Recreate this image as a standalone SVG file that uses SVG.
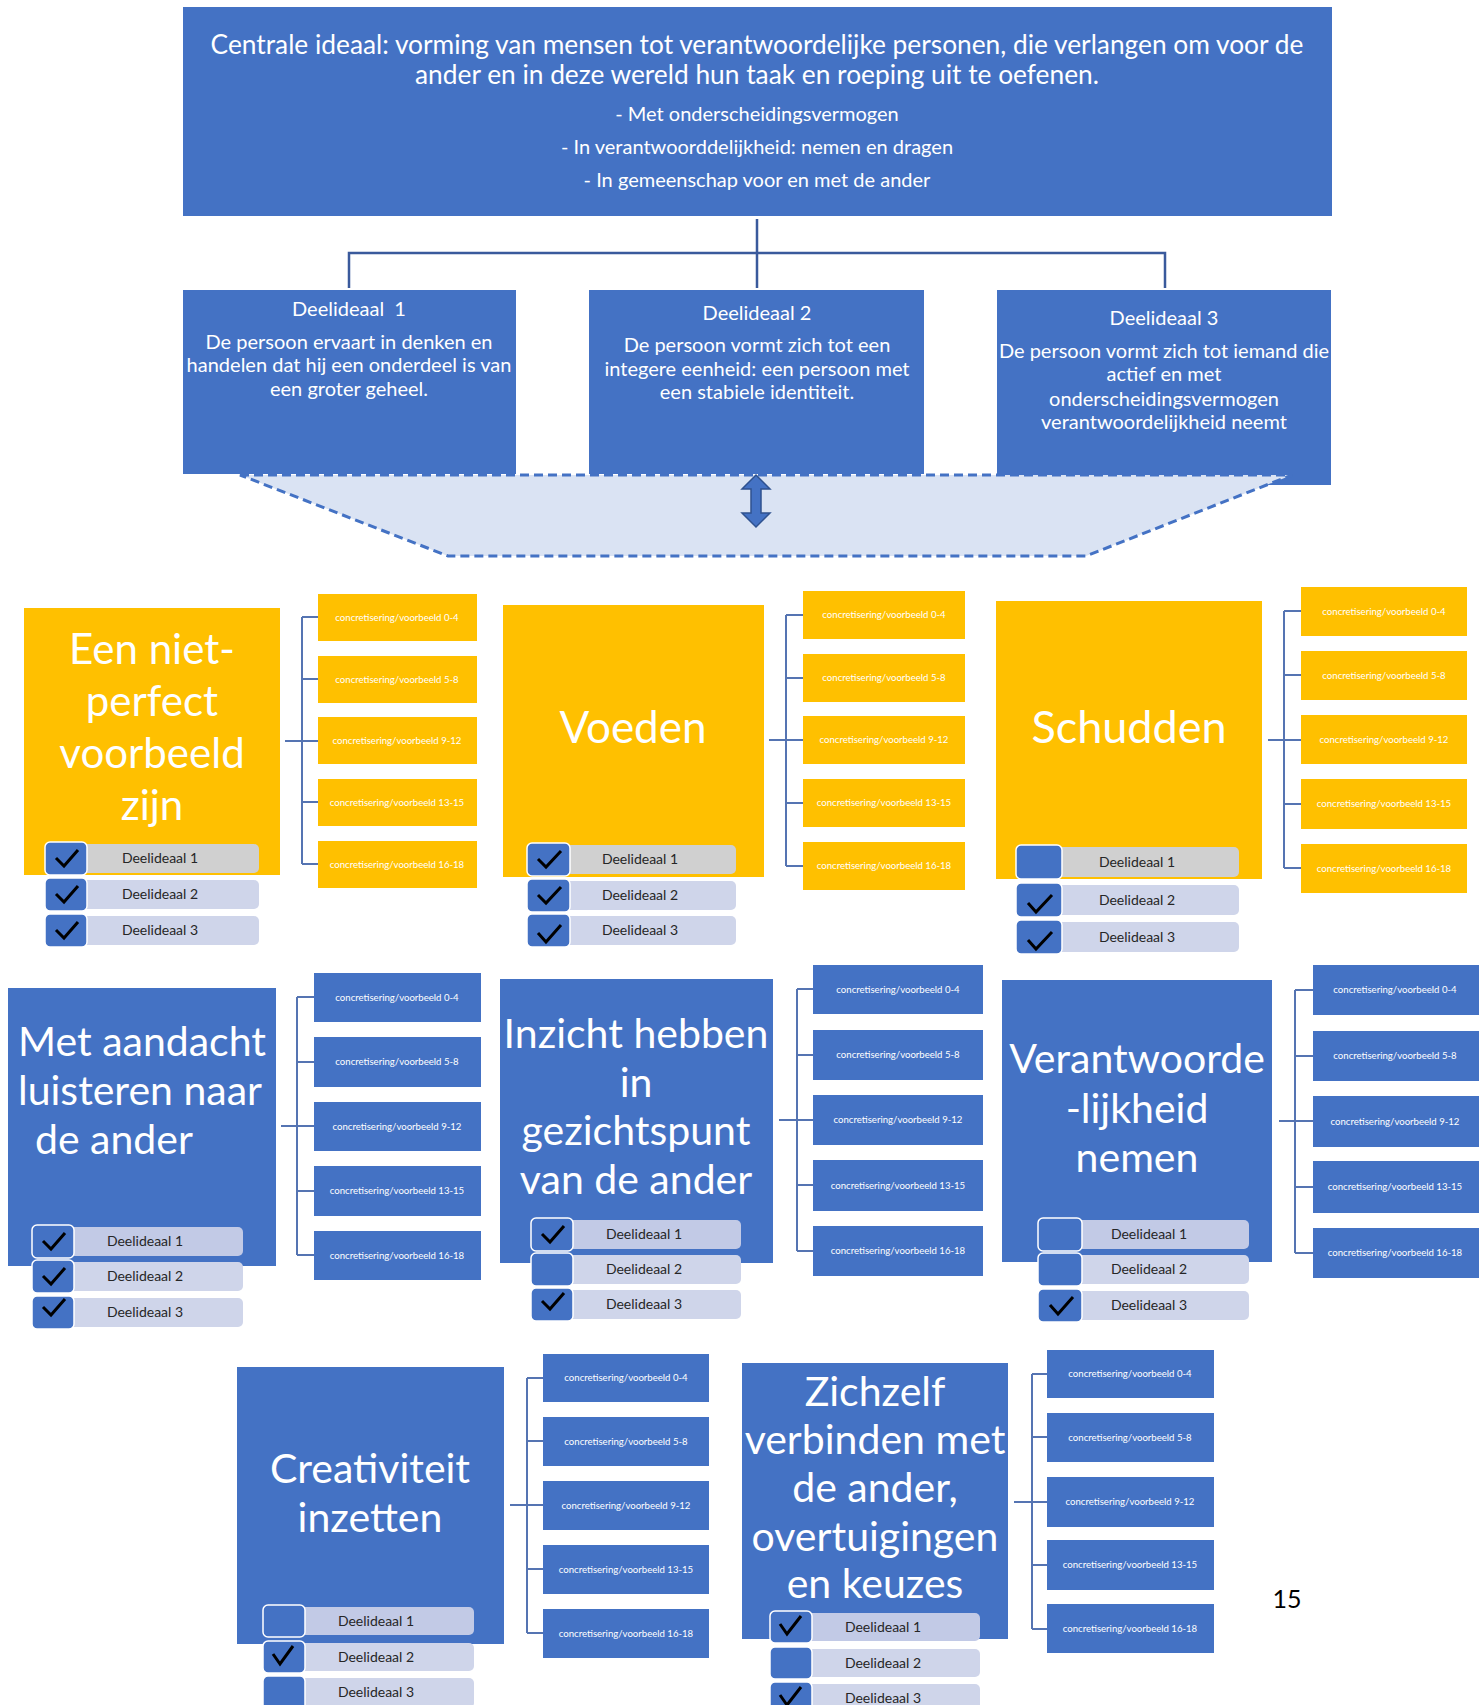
<svg xmlns="http://www.w3.org/2000/svg" width="1479" height="1705" viewBox="0 0 1479 1705">
<style>
text{font-family:Lato,'Liberation Sans',sans-serif}
.blue{fill:#4472C4}
.yel{fill:#FFC000}
.top1{font-size:26.3px;fill:#fff;text-anchor:middle}
.top2{font-size:20px;fill:#fff;text-anchor:middle}
.dl{font-size:20px;fill:#fff;text-anchor:middle}
.ttl{font-size:41px;fill:#fff;text-anchor:middle}
.ttly{font-size:42px;fill:#fff;text-anchor:middle}
.cc{font-size:9.6px;fill:#fff;text-anchor:middle}
.lab{font-size:14px;fill:#262626;text-anchor:middle}
.sq{fill:#4472C4;stroke:#fff;stroke-width:1.5}
.bar{fill:#CFD5EA}
.bar1y{fill:#D0D0D0}
.bar1b{fill:#C2CAE6}
.chk{fill:none;stroke:#000;stroke-width:3;stroke-linejoin:miter}
.tree{fill:none;stroke:#3A5A9C;stroke-width:2.5}
.br{fill:none;stroke:#5574B2;stroke-width:2}
</style>

<!-- connectors -->
<g id="connectors">
  <path class="tree" d="M757 219 V288 M349 288 V253 H1165 V288"/>
  <path class="br" d="M285 741 H302 M302 617 V864 M302 617 H318 M302 679 H318 M302 741 H318 M302 802 H318 M302 864 H318"/>
  <path class="br" d="M769 740 H786 M786 615 V866 M786 615 H803 M786 678 H803 M786 740 H803 M786 803 H803 M786 866 H803"/>
  <path class="br" d="M1268 740 H1284 M1284 611 V868 M1284 611 H1301 M1284 675 H1301 M1284 740 H1301 M1284 804 H1301 M1284 868 H1301"/>
  <path class="br" d="M281 1126 H297 M297 997 V1255 M297 997 H314 M297 1062 H314 M297 1126 H314 M297 1191 H314 M297 1255 H314"/>
  <path class="br" d="M779 1120 H797 M797 989 V1251 M797 989 H813 M797 1055 H813 M797 1120 H813 M797 1185 H813 M797 1251 H813"/>
  <path class="br" d="M1279 1121 H1295 M1295 990 V1253 M1295 990 H1313 M1295 1056 H1313 M1295 1121 H1313 M1295 1187 H1313 M1295 1253 H1313"/>
  <path class="br" d="M510 1505 H527 M527 1378 V1633 M527 1378 H543 M527 1441 H543 M527 1505 H543 M527 1569 H543 M527 1633 H543"/>
  <path class="br" d="M1014 1502 H1032 M1032 1374 V1629 M1032 1374 H1047 M1032 1437 H1047 M1032 1502 H1047 M1032 1565 H1047 M1032 1629 H1047"/>
</g>

<g id="centraal">
  <rect class="blue" x="183" y="7" width="1149" height="209"/>
  <text class="top1" x="757" y="54">Centrale ideaal: vorming van mensen tot verantwoordelijke personen, die verlangen om voor de</text>
  <text class="top1" x="757" y="84">ander en in deze wereld hun taak en roeping uit te oefenen.</text>
  <text class="top2" x="757" y="121">- Met onderscheidingsvermogen</text>
  <text class="top2" x="757" y="154">- In verantwoorddelijkheid: nemen en dragen</text>
  <text class="top2" x="757" y="187">- In gemeenschap voor en met de ander</text>
</g>

<g id="deelideaal1">
  <rect class="blue" x="183" y="290" width="333" height="184"/>
  <text class="dl" x="349" y="316" xml:space="preserve">Deelideaal  1</text>
  <text class="dl" x="349" y="349">De persoon ervaart in denken en</text>
  <text class="dl" x="349" y="372">handelen dat hij een onderdeel is van</text>
  <text class="dl" x="349" y="396">een groter geheel.</text>
</g>
<g id="deelideaal2">
  <rect class="blue" x="589" y="290" width="335" height="184"/>
  <text class="dl" x="757" y="320">Deelideaal 2</text>
  <text class="dl" x="757" y="352">De persoon vormt zich tot een</text>
  <text class="dl" x="757" y="376">integere eenheid: een persoon met</text>
  <text class="dl" x="757" y="399">een stabiele identiteit.</text>
</g>
<g id="deelideaal3">
  <rect class="blue" x="997" y="290" width="334" height="195"/>
  <text class="dl" x="1164" y="325">Deelideaal 3</text>
  <text class="dl" x="1164" y="358">De persoon vormt zich tot iemand die</text>
  <text class="dl" x="1164" y="381">actief en met</text>
  <text class="dl" x="1164" y="406">onderscheidingsvermogen</text>
  <text class="dl" x="1164" y="429">verantwoordelijkheid neemt</text>
</g>

<g id="trechter">
  <polygon points="240,475 1292,475 1086,556 448,556" fill="#DAE3F3" stroke="#4472C4" stroke-width="3" stroke-dasharray="9 5"/>
  <polygon points="756,475 770,489 761,489 761,513 770,513 756,527 742,513 751,513 751,489 742,489" fill="#4472C4" stroke="#2F528F" stroke-width="1.5"/>
</g>

<!-- Row 1 -->
<g id="node-voorbeeld">
  <rect class="yel" x="24" y="608" width="256" height="267"/>
  <text class="ttly" x="152" y="664">Een niet-</text>
  <text class="ttly" x="152" y="716">perfect</text>
  <text class="ttly" x="152" y="768">voorbeeld</text>
  <text class="ttly" x="152" y="820">zijn</text>
  <rect class="bar1y" x="80" y="844" width="179" height="29" rx="5"/>
  <rect class="sq" x="45" y="842" width="42" height="33" rx="5"/>
  <path class="chk" d="M56 858 L64 866 L78 850"/>
  <text class="lab" x="160" y="863">Deelideaal 1</text>
  <rect class="bar" x="80" y="880" width="179" height="29" rx="5"/>
  <rect class="sq" x="45" y="878" width="42" height="33" rx="5"/>
  <path class="chk" d="M56 894 L64 902 L78 886"/>
  <text class="lab" x="160" y="899">Deelideaal 2</text>
  <rect class="bar" x="80" y="916" width="179" height="29" rx="5"/>
  <rect class="sq" x="45" y="914" width="42" height="33" rx="5"/>
  <path class="chk" d="M56 930 L64 938 L78 922"/>
  <text class="lab" x="160" y="935">Deelideaal 3</text>
</g>
<g id="conc-voorbeeld">
  <rect class="yel" x="318" y="594" width="159" height="47"/>
  <text class="cc" x="397" y="621">concretisering/voorbeeld 0-4</text>
  <rect class="yel" x="318" y="656" width="159" height="47"/>
  <text class="cc" x="397" y="683">concretisering/voorbeeld 5-8</text>
  <rect class="yel" x="318" y="717" width="159" height="47"/>
  <text class="cc" x="397" y="744">concretisering/voorbeeld 9-12</text>
  <rect class="yel" x="318" y="779" width="159" height="47"/>
  <text class="cc" x="397" y="806">concretisering/voorbeeld 13-15</text>
  <rect class="yel" x="318" y="841" width="159" height="47"/>
  <text class="cc" x="397" y="868">concretisering/voorbeeld 16-18</text>
</g>

<g id="node-voeden">
  <rect class="yel" x="503" y="605" width="261" height="272"/>
  <text class="ttly" x="633" y="743" style="font-size:44px">Voeden</text>
  <rect class="bar1y" x="563" y="845" width="173" height="29" rx="5"/>
  <rect class="sq" x="527" y="843" width="43" height="33" rx="5"/>
  <path class="chk" d="M538 859 L546 867 L561 851"/>
  <text class="lab" x="640" y="864">Deelideaal 1</text>
  <rect class="bar" x="563" y="881" width="173" height="29" rx="5"/>
  <rect class="sq" x="527" y="879" width="43" height="33" rx="5"/>
  <path class="chk" d="M538 895 L546 903 L561 887"/>
  <text class="lab" x="640" y="900">Deelideaal 2</text>
  <rect class="bar" x="563" y="916" width="173" height="29" rx="5"/>
  <rect class="sq" x="527" y="914" width="43" height="33" rx="5"/>
  <path class="chk" d="M538 933 L546 942 L561 925"/>
  <text class="lab" x="640" y="935">Deelideaal 3</text>
</g>
<g id="conc-voeden">
  <rect class="yel" x="803" y="591" width="162" height="48"/>
  <text class="cc" x="884" y="618">concretisering/voorbeeld 0-4</text>
  <rect class="yel" x="803" y="654" width="162" height="48"/>
  <text class="cc" x="884" y="681">concretisering/voorbeeld 5-8</text>
  <rect class="yel" x="803" y="716" width="162" height="48"/>
  <text class="cc" x="884" y="743">concretisering/voorbeeld 9-12</text>
  <rect class="yel" x="803" y="779" width="162" height="48"/>
  <text class="cc" x="884" y="806">concretisering/voorbeeld 13-15</text>
  <rect class="yel" x="803" y="842" width="162" height="48"/>
  <text class="cc" x="884" y="869">concretisering/voorbeeld 16-18</text>
</g>

<g id="node-schudden">
  <rect class="yel" x="996" y="601" width="266" height="278"/>
  <text class="ttly" x="1129" y="743" style="font-size:45px">Schudden</text>
  <rect class="bar1y" x="1054" y="847" width="185" height="30" rx="5"/>
  <rect class="sq" x="1016" y="845" width="46" height="34" rx="5"/>
  <text class="lab" x="1137" y="867">Deelideaal 1</text>
  <rect class="bar" x="1054" y="885" width="185" height="30" rx="5"/>
  <rect class="sq" x="1016" y="883" width="46" height="34" rx="5"/>
  <path class="chk" d="M1028 903 L1036 912 L1052 895"/>
  <text class="lab" x="1137" y="905">Deelideaal 2</text>
  <rect class="bar" x="1054" y="922" width="185" height="30" rx="5"/>
  <rect class="sq" x="1016" y="920" width="46" height="34" rx="5"/>
  <path class="chk" d="M1028 940 L1036 949 L1052 932"/>
  <text class="lab" x="1137" y="942">Deelideaal 3</text>
</g>
<g id="conc-schudden">
  <rect class="yel" x="1301" y="587" width="166" height="49"/>
  <text class="cc" x="1384" y="615">concretisering/voorbeeld 0-4</text>
  <rect class="yel" x="1301" y="651" width="166" height="49"/>
  <text class="cc" x="1384" y="679">concretisering/voorbeeld 5-8</text>
  <rect class="yel" x="1301" y="715" width="166" height="49"/>
  <text class="cc" x="1384" y="743">concretisering/voorbeeld 9-12</text>
  <rect class="yel" x="1301" y="779" width="166" height="50"/>
  <text class="cc" x="1384" y="807">concretisering/voorbeeld 13-15</text>
  <rect class="yel" x="1301" y="844" width="166" height="49"/>
  <text class="cc" x="1384" y="872">concretisering/voorbeeld 16-18</text>
</g>

<!-- Row 2 -->
<g id="node-luisteren">
  <rect class="blue" x="8" y="988" width="268" height="278"/>
  <text class="ttl" x="18" y="1056" style="text-anchor:start">Met aandacht</text>
  <text class="ttl" x="18" y="1105" style="text-anchor:start">luisteren naar</text>
  <text class="ttl" x="35" y="1154" style="text-anchor:start">de ander</text>
  <rect class="bar1b" x="67" y="1227" width="176" height="29" rx="5"/>
  <rect class="sq" x="32" y="1225" width="42" height="33" rx="5"/>
  <path class="chk" d="M43 1241 L51 1249 L65 1233"/>
  <text class="lab" x="145" y="1246">Deelideaal 1</text>
  <rect class="bar" x="67" y="1262" width="176" height="29" rx="5"/>
  <rect class="sq" x="32" y="1260" width="42" height="33" rx="5"/>
  <path class="chk" d="M43 1276 L51 1284 L65 1268"/>
  <text class="lab" x="145" y="1281">Deelideaal 2</text>
  <rect class="bar" x="67" y="1298" width="176" height="29" rx="5"/>
  <rect class="sq" x="32" y="1296" width="42" height="33" rx="5"/>
  <path class="chk" d="M43 1307 L51 1315 L65 1299"/>
  <text class="lab" x="145" y="1317">Deelideaal 3</text>
</g>
<g id="conc-luisteren">
  <rect class="blue" x="314" y="973" width="167" height="49"/>
  <text class="cc" x="397" y="1001">concretisering/voorbeeld 0-4</text>
  <rect class="blue" x="314" y="1037" width="167" height="50"/>
  <text class="cc" x="397" y="1065">concretisering/voorbeeld 5-8</text>
  <rect class="blue" x="314" y="1102" width="167" height="49"/>
  <text class="cc" x="397" y="1130">concretisering/voorbeeld 9-12</text>
  <rect class="blue" x="314" y="1166" width="167" height="50"/>
  <text class="cc" x="397" y="1194">concretisering/voorbeeld 13-15</text>
  <rect class="blue" x="314" y="1231" width="167" height="49"/>
  <text class="cc" x="397" y="1259">concretisering/voorbeeld 16-18</text>
</g>

<g id="node-inzicht">
  <rect class="blue" x="500" y="979" width="273" height="284"/>
  <text class="ttl" x="636" y="1048">Inzicht hebben</text>
  <text class="ttl" x="636" y="1097">in</text>
  <text class="ttl" x="636" y="1145">gezichtspunt</text>
  <text class="ttl" x="636" y="1194">van de ander</text>
  <rect class="bar1b" x="566" y="1220" width="175" height="29" rx="5"/>
  <rect class="sq" x="531" y="1218" width="42" height="33" rx="5"/>
  <path class="chk" d="M542 1234 L550 1242 L564 1226"/>
  <text class="lab" x="644" y="1239">Deelideaal 1</text>
  <rect class="bar" x="566" y="1255" width="175" height="29" rx="5"/>
  <rect class="sq" x="531" y="1253" width="42" height="33" rx="5"/>
  <text class="lab" x="644" y="1274">Deelideaal 2</text>
  <rect class="bar" x="566" y="1290" width="175" height="29" rx="5"/>
  <rect class="sq" x="531" y="1288" width="42" height="33" rx="5"/>
  <path class="chk" d="M542 1301 L550 1309 L564 1293"/>
  <text class="lab" x="644" y="1309">Deelideaal 3</text>
</g>
<g id="conc-inzicht">
  <rect class="blue" x="813" y="965" width="170" height="49"/>
  <text class="cc" x="898" y="993">concretisering/voorbeeld 0-4</text>
  <rect class="blue" x="813" y="1030" width="170" height="50"/>
  <text class="cc" x="898" y="1058">concretisering/voorbeeld 5-8</text>
  <rect class="blue" x="813" y="1095" width="170" height="50"/>
  <text class="cc" x="898" y="1123">concretisering/voorbeeld 9-12</text>
  <rect class="blue" x="813" y="1160" width="170" height="51"/>
  <text class="cc" x="898" y="1189">concretisering/voorbeeld 13-15</text>
  <rect class="blue" x="813" y="1226" width="170" height="50"/>
  <text class="cc" x="898" y="1254">concretisering/voorbeeld 16-18</text>
</g>

<g id="node-verantwoordelijkheid">
  <rect class="blue" x="1002" y="980" width="270" height="282"/>
  <text class="ttl" x="1137" y="1073">Verantwoorde</text>
  <text class="ttl" x="1137" y="1123">-lijkheid</text>
  <text class="ttl" x="1137" y="1172">nemen</text>
  <rect class="bar1b" x="1074" y="1220" width="175" height="29" rx="5"/>
  <rect class="sq" x="1038" y="1218" width="44" height="33" rx="5"/>
  <text class="lab" x="1149" y="1239">Deelideaal 1</text>
  <rect class="bar" x="1074" y="1255" width="175" height="29" rx="5"/>
  <rect class="sq" x="1038" y="1253" width="44" height="33" rx="5"/>
  <text class="lab" x="1149" y="1274">Deelideaal 2</text>
  <rect class="bar" x="1074" y="1291" width="175" height="29" rx="5"/>
  <rect class="sq" x="1038" y="1289" width="44" height="33" rx="5"/>
  <path class="chk" d="M1050 1305 L1058 1314 L1073 1297"/>
  <text class="lab" x="1149" y="1310">Deelideaal 3</text>
</g>
<g id="conc-verantwoordelijkheid">
  <rect class="blue" x="1313" y="965" width="166" height="50"/>
  <text class="cc" x="1395" y="993">concretisering/voorbeeld 0-4</text>
  <rect class="blue" x="1313" y="1031" width="166" height="50"/>
  <text class="cc" x="1395" y="1059">concretisering/voorbeeld 5-8</text>
  <rect class="blue" x="1313" y="1096" width="166" height="51"/>
  <text class="cc" x="1395" y="1125">concretisering/voorbeeld 9-12</text>
  <rect class="blue" x="1313" y="1161" width="166" height="52"/>
  <text class="cc" x="1395" y="1190">concretisering/voorbeeld 13-15</text>
  <rect class="blue" x="1313" y="1228" width="166" height="50"/>
  <text class="cc" x="1395" y="1256">concretisering/voorbeeld 16-18</text>
</g>

<!-- Row 3 -->
<g id="node-creativiteit">
  <rect class="blue" x="237" y="1367" width="267" height="277"/>
  <text class="ttl" x="370" y="1483">Creativiteit</text>
  <text class="ttl" x="370" y="1532">inzetten</text>
  <rect class="bar1b" x="298" y="1607" width="176" height="28" rx="5"/>
  <rect class="sq" x="263" y="1605" width="42" height="32" rx="5"/>
  <text class="lab" x="376" y="1626">Deelideaal 1</text>
  <rect class="bar" x="298" y="1643" width="176" height="28" rx="5"/>
  <rect class="sq" x="263" y="1641" width="42" height="32" rx="5"/>
  <path class="chk" d="M273 1654 L280 1664 L293 1646"/>
  <text class="lab" x="376" y="1662">Deelideaal 2</text>
  <rect class="bar" x="298" y="1678" width="176" height="30" rx="5"/>
  <rect class="sq" x="263" y="1676" width="42" height="34" rx="5"/>
  <text class="lab" x="376" y="1697">Deelideaal 3</text>
</g>
<g id="conc-creativiteit">
  <rect class="blue" x="543" y="1354" width="166" height="48"/>
  <text class="cc" x="626" y="1381">concretisering/voorbeeld 0-4</text>
  <rect class="blue" x="543" y="1417" width="166" height="49"/>
  <text class="cc" x="626" y="1445">concretisering/voorbeeld 5-8</text>
  <rect class="blue" x="543" y="1481" width="166" height="49"/>
  <text class="cc" x="626" y="1509">concretisering/voorbeeld 9-12</text>
  <rect class="blue" x="543" y="1545" width="166" height="49"/>
  <text class="cc" x="626" y="1573">concretisering/voorbeeld 13-15</text>
  <rect class="blue" x="543" y="1609" width="166" height="49"/>
  <text class="cc" x="626" y="1637">concretisering/voorbeeld 16-18</text>
</g>

<g id="node-verbinden">
  <rect class="blue" x="742" y="1363" width="266" height="276"/>
  <text class="ttl" x="875" y="1406">Zichzelf</text>
  <text class="ttl" x="875" y="1454">verbinden met</text>
  <text class="ttl" x="875" y="1502">de ander,</text>
  <text class="ttl" x="875" y="1551">overtuigingen</text>
  <text class="ttl" x="875" y="1598">en keuzes</text>
  <rect class="bar1b" x="805" y="1613" width="175" height="28" rx="5"/>
  <rect class="sq" x="770" y="1611" width="42" height="32" rx="5"/>
  <path class="chk" d="M780 1624 L787 1634 L801 1616"/>
  <text class="lab" x="883" y="1632">Deelideaal 1</text>
  <rect class="bar" x="805" y="1649" width="175" height="28" rx="5"/>
  <rect class="sq" x="770" y="1647" width="42" height="32" rx="5"/>
  <text class="lab" x="883" y="1668">Deelideaal 2</text>
  <rect class="bar" x="805" y="1684" width="175" height="28" rx="5"/>
  <rect class="sq" x="770" y="1682" width="42" height="32" rx="5"/>
  <path class="chk" d="M780 1695 L787 1705 L801 1687"/>
  <text class="lab" x="883" y="1703">Deelideaal 3</text>
</g>
<g id="conc-verbinden">
  <rect class="blue" x="1047" y="1350" width="167" height="48"/>
  <text class="cc" x="1130" y="1377">concretisering/voorbeeld 0-4</text>
  <rect class="blue" x="1047" y="1413" width="167" height="49"/>
  <text class="cc" x="1130" y="1441">concretisering/voorbeeld 5-8</text>
  <rect class="blue" x="1047" y="1477" width="167" height="50"/>
  <text class="cc" x="1130" y="1505">concretisering/voorbeeld 9-12</text>
  <rect class="blue" x="1047" y="1540" width="167" height="50"/>
  <text class="cc" x="1130" y="1568">concretisering/voorbeeld 13-15</text>
  <rect class="blue" x="1047" y="1604" width="167" height="49"/>
  <text class="cc" x="1130" y="1632">concretisering/voorbeeld 16-18</text>
</g>

<g id="paginanummer">
  <text x="1287" y="1608" style="font-size:25px;fill:#000;text-anchor:middle">15</text>
</g>
</svg>
